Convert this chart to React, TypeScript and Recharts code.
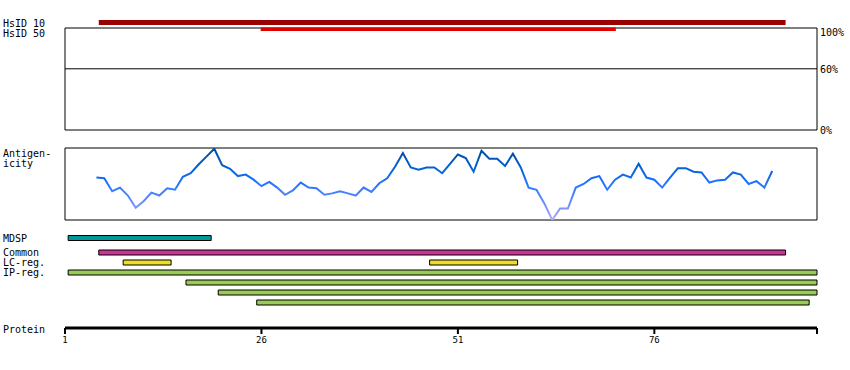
import { ComposedChart, Line, XAxis, YAxis, ReferenceArea, ReferenceLine } from 'recharts'

const FONT = '"DejaVu Sans Mono", monospace'

// protein axis (residue numbers)
const proteinEnd = 96.7
const proteinTicks = [1, 26, 51, 76, proteinEnd]

// identity tracks
const hsid10 = [[5.3, 92.7]]
const hsid50 = [[25.9, 71.1]]
const identityTicks = [0, 60, 100]
const identityCutoff = 60

// antigenicity profile, first value is residue 5
const antigenStart = 5
const antigenValues = [
  0.59, 0.58, 0.40, 0.45, 0.34, 0.17, 0.26, 0.38, 0.34, 0.44,
  0.42, 0.60, 0.65, 0.77, 0.88, 0.99, 0.76, 0.71, 0.61, 0.63,
  0.56, 0.47, 0.53, 0.45, 0.35, 0.41, 0.52, 0.45, 0.44, 0.35,
  0.37, 0.40, 0.37, 0.34, 0.45, 0.39, 0.51, 0.58, 0.74, 0.93,
  0.73, 0.70, 0.73, 0.73, 0.65, 0.78, 0.91, 0.86, 0.67, 0.96,
  0.85, 0.85, 0.75, 0.92, 0.73, 0.45, 0.42, 0.23, 0.00, 0.16,
  0.16, 0.45, 0.50, 0.58, 0.61, 0.42, 0.56, 0.63, 0.59, 0.78,
  0.59, 0.56, 0.45, 0.59, 0.72, 0.72, 0.67, 0.66, 0.52, 0.55,
  0.56, 0.66, 0.63, 0.50, 0.54, 0.45, 0.68,
]

// feature tracks
const trackNames = ['MDSP', 'Common', 'LC-reg.', 'IP-reg.']
const mdsp = [[1.4, 19.6]]
const common = [[5.3, 92.7]]
const lcReg = [[8.4, 14.5], [47.4, 58.6]]
const ipReg = [[1.4, 96.7], [16.4, 96.7], [20.5, 96.7], [25.4, 95.7]]

const antigenData = antigenValues.map((value, i) => ({ pos: antigenStart + i, value }))

// layout of the feature rows (row units = 10px)
const trackRows = [0, 1.45, 2.45, 3.45]
const BAR_HALF = 0.25

const featureBars = [
  ...mdsp.map(([s, e]) => ({ s, e, row: trackRows[0], color: '#009999' })),
  ...common.map(([s, e]) => ({ s, e, row: trackRows[1], color: '#cc3399' })),
  ...lcReg.map(([s, e]) => ({ s, e, row: trackRows[2], color: '#eedd22' })),
  ...ipReg.map(([s, e], i) => ({ s, e, row: trackRows[3] + i, color: '#99cc55' })),
]

const PercentTick = (props: any) => {
  const { x, y, payload } = props
  return (
    <text x={x} y={y} dy={payload.value === 100 ? 8 : 4} fontFamily={FONT} fontSize={10} fill="#000">
      {payload.value}%
    </text>
  )
}

const TrackTick = (props: any) => {
  const { y, payload } = props
  const idx = trackRows.indexOf(payload.value)
  return (
    <text x={3} y={y} dy={3.5} fontFamily={FONT} fontSize={10} fill="#000">
      {trackNames[idx]}
    </text>
  )
}

const labelStyle = { fontFamily: FONT, fontSize: 10, fill: '#000' }

export default function App() {
  return (
    <div style={{ position: 'absolute', left: 0, top: 0, width: 850, height: 370, background: '#fff' }}>
      {/* identity panel */}
      <div style={{ position: 'absolute', left: 0, top: 0 }}>
        <ComposedChart width={850} height={140} data={antigenData} margin={{ top: 28, right: 0, left: 65, bottom: 10 }}>
          <XAxis dataKey="pos" type="number" domain={[1, proteinEnd]} allowDataOverflow hide />
          <YAxis
            orientation="right"
            width={33}
            type="number"
            domain={[0, 100]}
            allowDataOverflow
            ticks={identityTicks}
            interval={0}
            axisLine={false}
            tickLine={false}
            tickSize={0}
            tickMargin={3}
            tick={<PercentTick />}
          />
          <ReferenceArea x1={1} x2={proteinEnd} y1={0} y2={100} fill="none" stroke="#000" strokeWidth={1} />
          <ReferenceLine y={identityCutoff} stroke="#000" strokeWidth={1} />
          {hsid10.map(([s, e], i) => (
            <ReferenceArea key={`h10-${i}`} x1={s} x2={e} y1={102.9} y2={107.8} fill="#990000" fillOpacity={1} ifOverflow="visible" />
          ))}
          {hsid50.map(([s, e], i) => (
            <ReferenceArea key={`h50-${i}`} x1={s} x2={e} y1={97.1} y2={100.4} fill="#e00000" fillOpacity={1} ifOverflow="visible" />
          ))}
        </ComposedChart>
      </div>

      {/* antigenicity panel */}
      <div style={{ position: 'absolute', left: 0, top: 140 }}>
        <ComposedChart width={850} height={90} data={antigenData} margin={{ top: 8, right: 33, left: 65, bottom: 10 }}>
          <defs>
            <linearGradient id="antigenGrad" x1="0" y1="0" x2="0" y2="1">
              <stop offset="0%" stopColor="#004c9c" />
              <stop offset="25%" stopColor="#0060d0" />
              <stop offset="45%" stopColor="#1870ff" />
              <stop offset="65%" stopColor="#4a84ff" />
              <stop offset="85%" stopColor="#8494ff" />
              <stop offset="100%" stopColor="#b4a8ff" />
            </linearGradient>
          </defs>
          <XAxis dataKey="pos" type="number" domain={[1, proteinEnd]} allowDataOverflow hide />
          <YAxis type="number" domain={[0, 1]} allowDataOverflow hide />
          <ReferenceArea x1={1} x2={proteinEnd} y1={0} y2={1} fill="none" stroke="#000" strokeWidth={1} />
          <Line
            type="linear"
            dataKey="value"
            stroke="url(#antigenGrad)"
            strokeWidth={2}
            dot={false}
            isAnimationActive={false}
          />
        </ComposedChart>
      </div>

      {/* feature tracks + protein axis */}
      <div style={{ position: 'absolute', left: 0, top: 225 }}>
        <ComposedChart width={850} height={145} data={antigenData} margin={{ top: 3, right: 33, left: 0, bottom: 0 }}>
          <XAxis
            dataKey="pos"
            type="number"
            domain={[1, proteinEnd]}
            allowDataOverflow
            ticks={proteinTicks}
            interval={0}
            height={42}
            axisLine={{ stroke: '#000', strokeWidth: 3 }}
            tickLine={{ stroke: '#000', strokeWidth: 2 }}
            tickSize={6}
            tickMargin={3}
            tick={{ fontFamily: FONT, fontSize: 9, fill: '#000' }}
            tickFormatter={(v: number) => (v === proteinEnd ? '' : String(v))}
          />
          <YAxis
            width={65}
            type="number"
            reversed
            domain={[-1, 9]}
            allowDataOverflow
            ticks={trackRows}
            interval={0}
            axisLine={false}
            tickLine={false}
            tick={<TrackTick />}
          />
          {featureBars.map((b, i) => (
            <ReferenceArea
              key={`f-${i}`}
              x1={b.s}
              x2={b.e}
              y1={b.row - BAR_HALF}
              y2={b.row + BAR_HALF}
              fill={b.color}
              fillOpacity={1}
              stroke="#000"
              strokeWidth={1}
            />
          ))}
        </ComposedChart>
      </div>

      {/* panel labels */}
      <svg width={850} height={370} style={{ position: 'absolute', left: 0, top: 0, pointerEvents: 'none' }}>
        <text x={3} y={26.5} {...labelStyle}>HsID 10</text>
        <text x={3} y={36.5} {...labelStyle}>HsID 50</text>
        <text x={3} y={157} {...labelStyle}>Antigen-</text>
        <text x={3} y={167} {...labelStyle}>icity</text>
        <text x={3} y={333} {...labelStyle}>Protein</text>
      </svg>
    </div>
  )
}
